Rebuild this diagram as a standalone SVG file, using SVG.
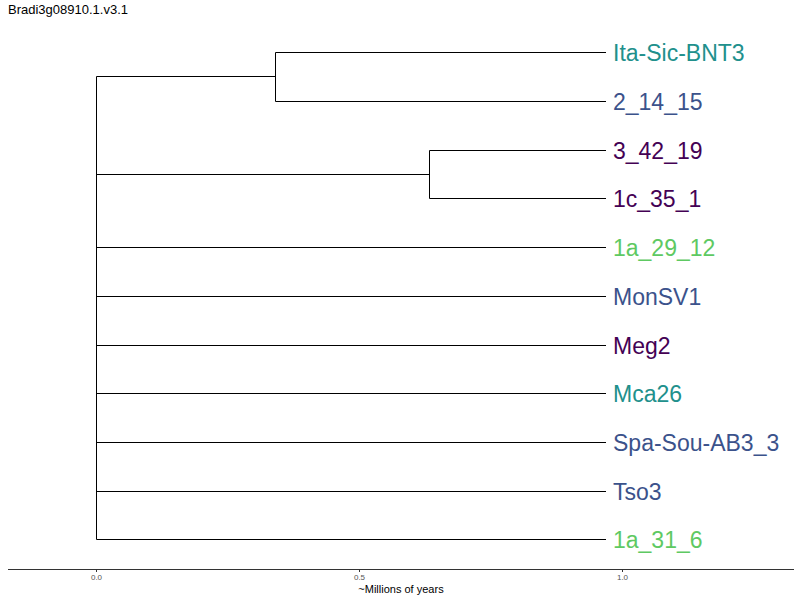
<svg xmlns="http://www.w3.org/2000/svg" width="800" height="600" viewBox="0 0 800 600">
  <style>
    .edge { stroke: #000; stroke-width: 1; fill: none; }
    .axis { stroke: #333; stroke-width: 1; fill: none; }
    .tip { font-family: "Liberation Sans", Arial, sans-serif; font-size: 23px; dominant-baseline: central; }
    .tick { font-family: "Liberation Sans", Arial, sans-serif; font-size: 8px; fill: #555; text-anchor: middle; }
    .title { font-family: "Liberation Sans", Arial, sans-serif; font-size: 13px; fill: #000; }
    .xlab { font-family: "Liberation Sans", Arial, sans-serif; font-size: 11px; fill: #000; text-anchor: middle; }
    .c-teal { fill: #21908c; }
    .c-blue { fill: #3b528b; }
    .c-purple { fill: #440154; }
    .c-green { fill: #5ec962; }
  </style>
  <rect width="800" height="600" fill="#fff"/>

  <text class="title" x="8" y="14">Bradi3g08910.1.v3.1</text>

  <!-- tree branches -->
  <g id="connectors">
    <!-- root -->
    <path class="edge" d="M96.5 76.5 V539.5"/>
    <path class="edge" d="M96.5 76.5 H275.5"/>
    <path class="edge" d="M96.5 174.5 H429.5"/>
    <path class="edge" d="M96.5 247.5 H606"/>
    <path class="edge" d="M96.5 296.5 H606"/>
    <path class="edge" d="M96.5 345.5 H606"/>
    <path class="edge" d="M96.5 393.5 H606"/>
    <path class="edge" d="M96.5 442.5 H606"/>
    <path class="edge" d="M96.5 491.5 H606"/>
    <path class="edge" d="M96.5 539.5 H606"/>
    <!-- clade Ita-Sic-BNT3 / 2_14_15 -->
    <path class="edge" d="M275.5 52.5 V101.5"/>
    <path class="edge" d="M275.5 52.5 H606"/>
    <path class="edge" d="M275.5 101.5 H606"/>
    <!-- clade 3_42_19 / 1c_35_1 -->
    <path class="edge" d="M429.5 150.5 V198.5"/>
    <path class="edge" d="M429.5 150.5 H606"/>
    <path class="edge" d="M429.5 198.5 H606"/>
  </g>

  <!-- tip labels -->
  <g id="Ita-Sic-BNT3"><text class="tip c-teal" x="613" y="52.5">Ita-Sic-BNT3</text></g>
  <g id="t2_14_15"><text class="tip c-blue" x="613" y="101.5">2_14_15</text></g>
  <g id="t3_42_19"><text class="tip c-purple" x="613" y="150.5">3_42_19</text></g>
  <g id="t1c_35_1"><text class="tip c-purple" x="613" y="198.5">1c_35_1</text></g>
  <g id="t1a_29_12"><text class="tip c-green" x="613" y="247.5">1a_29_12</text></g>
  <g id="MonSV1"><text class="tip c-blue" x="613" y="296.5">MonSV1</text></g>
  <g id="Meg2"><text class="tip c-purple" x="613" y="345.5">Meg2</text></g>
  <g id="Mca26"><text class="tip c-teal" x="613" y="393.5">Mca26</text></g>
  <g id="Spa-Sou-AB3_3"><text class="tip c-blue" x="613" y="442.5">Spa-Sou-AB3_3</text></g>
  <g id="Tso3"><text class="tip c-blue" x="613" y="491.5">Tso3</text></g>
  <g id="t1a_31_6"><text class="tip c-green" x="613" y="539.5">1a_31_6</text></g>

  <!-- time axis -->
  <g id="axis">
    <path class="axis" d="M8 569.5 H794"/>
    <path class="axis" d="M96.5 569.5 V572 M359.5 569.5 V572 M622.5 569.5 V572"/>
    <text class="tick" x="96.5" y="580">0.0</text>
    <text class="tick" x="359.5" y="580">0.5</text>
    <text class="tick" x="622.5" y="580">1.0</text>
    <text class="xlab" x="401" y="593">~Millions of years</text>
  </g>
</svg>
